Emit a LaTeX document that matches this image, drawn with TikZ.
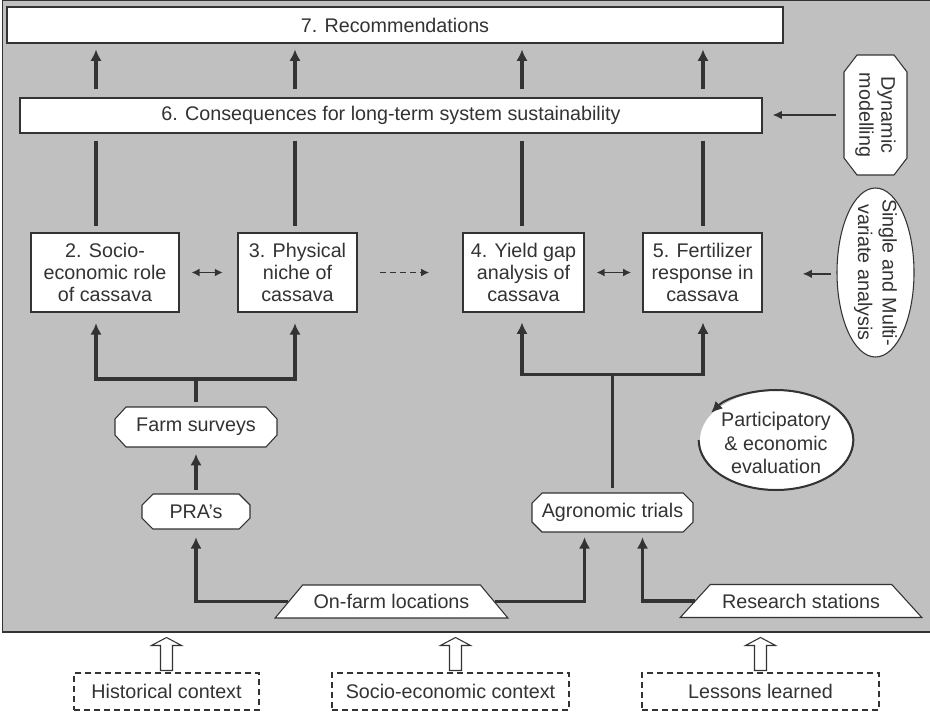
\documentclass[tikz,border=0pt]{standalone}
\usepackage{fontspec}
\setmainfont{Liberation Sans}
\usetikzlibrary{arrows.meta,shapes.geometric,calc}
\definecolor{bg}{HTML}{C0C0C0}
\definecolor{ink}{HTML}{333333}
\newcommand\octfill[6]{\draw[thinline, fill=white] (#1-#3/2+#5,#2-#4/2) -- (#1+#3/2-#5,#2-#4/2) -- (#1+#3/2,#2-#4/2+#6) -- (#1+#3/2,#2+#4/2-#6) -- (#1+#3/2-#5,#2+#4/2) -- (#1-#3/2+#5,#2+#4/2) -- (#1-#3/2,#2+#4/2-#6) -- (#1-#3/2,#2-#4/2+#6) -- cycle;}
\begin{document}
\begin{tikzpicture}[x=0.75pt,y=-0.75pt,
  font=\fontsize{14.8}{16.5}\selectfont, text=ink,
  thinline/.style={draw=ink, line width=0.8pt},
  box/.style={thinline, fill=white, align=center, inner sep=0pt},
  txt/.style={align=center, inner sep=0pt},
  conn/.style={draw=ink, line width=2.5pt},
  arr/.style={conn, -{Latex[length=8.5pt,width=8.5pt]}},
  midarr/.style={draw=ink, line width=1.7pt, -{Latex[length=7pt,width=6.5pt]}},
  darr/.style={draw=ink, line width=1.4pt, {Latex[length=6pt,width=6pt]}-{Latex[length=6pt,width=6pt]}},
  dasharr/.style={draw=ink, line width=1.4pt, dash pattern=on 4.5pt off 3pt, -{Latex[length=6pt,width=6pt]}},
  dbox/.style={draw=ink, line width=0.8pt, dash pattern=on 4.5pt off 3pt, fill=white, inner sep=0pt},
  hollow/.style={draw=ink, line width=0.8pt, fill=white, line join=miter}]
\useasboundingbox (0,0) rectangle (930,713);
\draw[fill=bg, draw=ink, line width=0.8pt] (2.5,0.5) rectangle (936,632);

% columns
\coordinate (c1) at (96,0);
\coordinate (c2) at (295,0);
\coordinate (c3) at (522,0);
\coordinate (c4) at (703,0);

% top boxes
\node[box, minimum width=776*0.75pt, minimum height=36*0.75pt] (rec) at (395,25) {7. Recommendations};
\node[box, minimum width=742*0.75pt, minimum height=35*0.75pt] (cons) at (391,115.5) {6. Consequences for long-term system sustainability};

% analysis boxes
\node[box, minimum width=148*0.75pt, minimum height=79*0.75pt] (b2) at (105,272.5) {2. Socio-\\economic role\\of cassava};
\node[box, minimum width=119*0.75pt, minimum height=79*0.75pt] (b3) at (297.5,272.5) {3. Physical\\niche of\\cassava};
\node[box, minimum width=121*0.75pt, minimum height=79*0.75pt] (b4) at (523.5,272.5) {4. Yield gap\\analysis of\\cassava};
\node[box, minimum width=119*0.75pt, minimum height=79*0.75pt] (b5) at (702.5,272.5) {5. Fertilizer\\response in\\cassava};

% octagons
\octfill{196}{427}{162}{40}{11}{12}
\node[txt, minimum width=162*0.75pt, minimum height=40*0.75pt] (farm) at (196,427) {Farm surveys};
\octfill{196}{511.5}{108}{35}{11}{11}
\node[txt, minimum width=108*0.75pt, minimum height=35*0.75pt] (pra) at (196,511.5) {PRA’s};
\octfill{612.5}{512.5}{161}{39}{10}{10}
\node[txt, minimum width=161*0.75pt, minimum height=39*0.75pt] (agro) at (612.5,512.5) {Agronomic trials};
\octfill{875.5}{115}{63}{120}{13}{17}
\node[txt, minimum width=63*0.75pt, minimum height=120*0.75pt] (dyn) at (875.5,115) {};
\node[txt, rotate=-90] (dyntext) at (dyn.center) {Dynamic\\modelling};

% ellipses
\node[ellipse, thinline, fill=white, inner sep=0pt,
      minimum width=77*0.75pt, minimum height=169*0.75pt] (sm) at (875.5,272.5) {};
\node[txt, rotate=-90, font=\fontsize{14.8}{18.5}\selectfont] (smtext) at (sm.center) {Single and Multi-\\variate analysis};
\node[ellipse, fill=white, inner sep=0pt,
      minimum width=152*0.75pt, minimum height=98*0.75pt] (part) at (776,440) {};
\node[txt, font=\fontsize{14.8}{17.3}\selectfont] (parttext) at (776,443) {Participatory\\\& economic\\evaluation};
\draw[draw=ink, line width=1.5pt, -{Latex[length=8.5pt,width=8pt]}]
  (part.center) ++(180:58pt and 37.5pt) arc[start angle=180, end angle=507, x radius=58pt, y radius=37.5pt];

% trapezia
\node[trapezium, thinline, fill=white, trapezium left angle=31, trapezium right angle=31,
      trapezium stretches=true, minimum width=233*0.75pt, minimum height=33*0.75pt, inner sep=0pt]
      (onfarm) at (391.5,601.5) {On-farm locations};
\node[trapezium, thinline, fill=white, trapezium left angle=29, trapezium right angle=29,
      trapezium stretches=true, minimum width=242*0.75pt, minimum height=33*0.75pt, inner sep=0pt]
      (research) at (801,601) {Research stations};

% dashed context boxes
\node[dbox, minimum width=185*0.75pt, minimum height=37*0.75pt] (hist) at (166.5,691.5) {Historical context};
\node[dbox, minimum width=237*0.75pt, minimum height=37*0.75pt] (socio) at (450.5,691.5) {Socio-economic context};
\node[dbox, minimum width=237*0.75pt, minimum height=37*0.75pt] (lessons) at (760.5,691.5) {Lessons learned};

% hollow arrows into frame
\foreach \n/\dx in {hist/0, socio/5, lessons/0}{
  \draw[hollow] ($(\n.north)+(\dx-6,-2)$) -- ++(0,-25) -- ++(-9,0) -- ++(15,-8) -- ++(15,8) -- ++(-9,0) -- ++(0,25) -- cycle;
}

% 6 -> 7 arrows
\foreach \c in {c1,c2,c3,c4}{
  \draw[arr, shorten <=6pt, shorten >=4.5pt] (cons.north -| \c) -- (rec.south -| \c);
}
% 6 -- boxes lines
\draw[conn, shorten <=5.25pt, shorten >=4.5pt] (cons.south -| c1) -- (b2.north -| c1);
\draw[conn, shorten <=5.25pt, shorten >=4.5pt] (cons.south -| c2) -- (b3.north -| c2);
\draw[conn, shorten <=5.25pt, shorten >=4.5pt] (cons.south -| c3) -- (b4.north -| c3);
\draw[conn, shorten <=5.25pt, shorten >=4.5pt] (cons.south -| c4) -- (b5.north -| c4);

% horizontal relations between boxes
\draw[darr, shorten <=9pt, shorten >=11pt] (b2.east) -- (b3.west);
\draw[dasharr, shorten <=17pt, shorten >=25pt] (b3.east) -- (b4.west);
\draw[darr, shorten <=9pt, shorten >=8.5pt] (b4.east) -- (b5.west);
\draw[midarr, shorten <=6pt, shorten >=7.5pt] (dyn.west) -- (cons.east |- dyn.west);
\draw[midarr, shorten <=4pt, shorten >=30pt] ([yshift=-1pt]sm.west) -- ([yshift=-1pt]b5.east |- sm.west);

% left bracket
\coordinate (lb) at (196,379);
\draw[conn, shorten <=3.75pt] (farm.north) -- (lb);
\draw[arr, shorten >=8pt] (lb) -| (b2.south -| c1);
\draw[arr, shorten >=8pt] (lb) -| (b3.south -| c2);
\draw[arr, shorten <=3pt, shorten >=5pt] (pra.north) -- (farm.south);
\draw[arr, shorten >=6pt] (onfarm.west) -| (pra.south);

% right bracket
\path (agro.north) ++(0,-118) coordinate (rb);
\draw[conn, shorten <=3.75pt] (agro.north) -- (rb);
\draw[arr, shorten >=7.5pt] (rb) -| (b4.south -| c3);
\draw[arr, shorten >=7.5pt] (rb) -| (b5.south -| c4);
\draw[arr, shorten >=3.75pt] (onfarm.east) -| ([xshift=-21pt]agro.south);
\draw[arr, shorten >=3.75pt] (research.west) -| ([xshift=22.5pt]agro.south);
\end{tikzpicture}
\end{document}
